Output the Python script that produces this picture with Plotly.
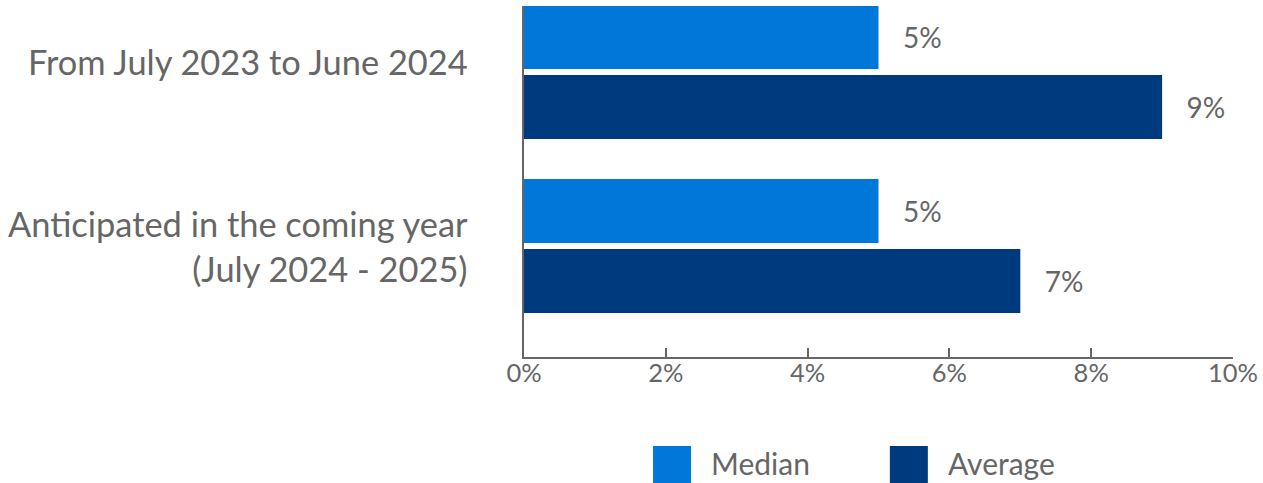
import plotly.graph_objects as go

categories = ["From July 2023 to June 2024", "Anticipated in the coming year<br>(July 2024 - 2025)"]
series_names = ["Median", "Average"]
median_vals = [5, 5]
average_vals = [9, 7]
tick_vals = [0, 2, 4, 6, 8, 10]
tick_text = ["0%", "2%", "4%", "6%", "8%", "10%"]
label_yshift = [10, 0]

colors = ["#0078DA", "#003A7E"]
gray = "#666666"
font = "Lato"

fig = go.Figure()
for name, vals, col in zip(series_names, [median_vals, average_vals], colors):
    fig.add_trace(go.Bar(
        y=categories, x=vals, name=name, orientation="h",
        marker=dict(color=col, line=dict(width=0)),
        text=[f"\u00a0\u00a0\u00a0{v}%" for v in vals],
        textposition="outside", cliponaxis=False,
        textfont=dict(family=font, size=28, color=gray),
        showlegend=False,
    ))

fig.update_layout(
    width=1263, height=483,
    margin=dict(l=524, r=30, t=6, b=126),
    barmode="group", bargap=0.195, bargroupgap=0.086,
    plot_bgcolor="white", paper_bgcolor="white",
    font=dict(family=font, color=gray),
    uniformtext=dict(mode=False),
)
fig.update_xaxes(
    range=[0, 10], tickvals=tick_vals, ticktext=tick_text,
    showgrid=False, zeroline=False, automargin=False,
    showline=True, linecolor=gray, linewidth=2,
    ticks="inside", ticklen=9, tickwidth=2, tickcolor=gray,
    ticklabelstandoff=-8,
    tickfont=dict(family=font, size=25.5, color=gray),
)
fig.update_yaxes(
    type="category", categoryorder="array", categoryarray=categories,
    range=[1.638, -0.379],
    showgrid=False, zeroline=False, automargin=False,
    showline=True, linecolor=gray, linewidth=2,
    ticks="", showticklabels=False,
)

# category labels
for cat, ys in zip(categories, label_yshift):
    fig.add_annotation(xref="paper", yref="y", x=0, y=cat, xshift=-54, yshift=ys,
                       text=cat, showarrow=False, xanchor="right", yanchor="middle",
                       align="right", font=dict(family=font, size=34.4, color=gray))

# legend drawn as squares + labels below the plot
leg_x = [0.182, 0.516]
for name, col, lx in zip(series_names, colors, leg_x):
    fig.add_shape(type="rect", xref="paper", yref="paper",
                  x0=lx, x1=lx + 0.0536, y0=-0.37, y1=-0.2536,
                  fillcolor=col, line=dict(width=0))
    fig.add_annotation(xref="paper", yref="paper", x=lx + 0.079, y=-0.302,
                       text=name, showarrow=False, xanchor="left", yanchor="middle",
                       font=dict(family=font, size=30, color=gray))

fig.write_html("out.html", config={"displayModeBar": False},
               post_script="document.body.style.margin='0';")
